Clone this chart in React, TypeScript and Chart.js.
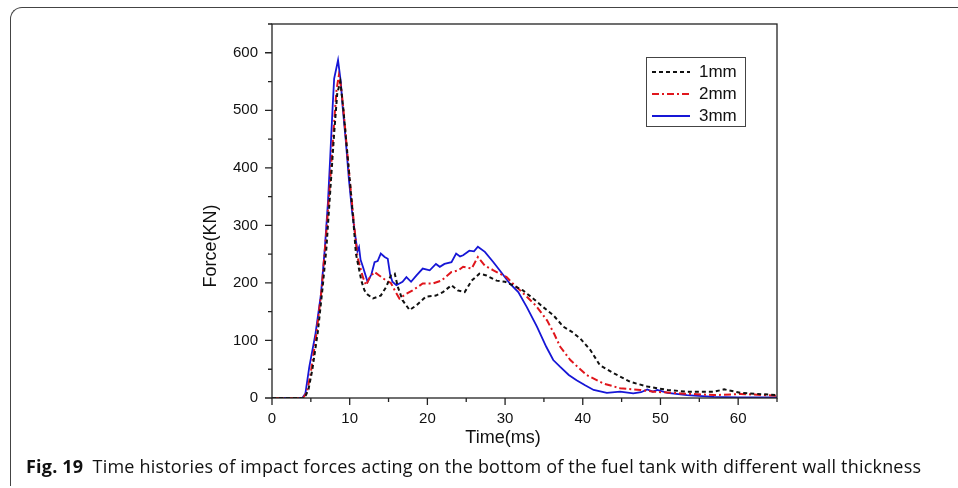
import React, { useEffect, useRef } from "react";
import { Chart, registerables } from "chart.js";

Chart.register(...registerables);

const seriesLabels = ["1mm", "2mm", "3mm"];

const t1 = [0, 4.2, 4.7, 5.2, 5.9, 6.5, 7.0, 7.5, 8.0, 8.4, 8.8, 9.2, 9.6, 10.0, 10.4, 10.8, 11.5, 11.9, 12.3, 13.0, 14.0, 14.7, 15.3, 15.8, 16.2, 16.8, 17.7, 18.6, 19.8, 21.1, 22.0, 23.1, 23.9, 24.8, 25.7, 26.7, 27.6, 28.9, 30.0, 31.0, 32.3, 33.6, 34.9, 36.2, 37.5, 38.6, 39.7, 41.0, 42.2, 44.0, 46.1, 48.3, 50.9, 53.4, 56.9, 58.2, 60.3, 65];
const f1 = [0, 0, 15, 50, 115, 190, 260, 360, 460, 530, 550, 500, 440, 380, 320, 251, 204, 187, 180, 173, 178, 193, 213, 216, 193, 170, 153, 161, 176, 178, 184, 196, 187, 184, 204, 216, 213, 204, 202, 196, 187, 173, 158, 144, 124, 115, 103, 83, 57, 43, 28, 20, 14, 11, 11, 15, 9, 5];

const t2 = [0, 4.0, 4.5, 5.0, 5.7, 6.4, 7.0, 7.5, 8.0, 8.3, 8.6, 8.9, 9.2, 9.6, 10.0, 10.5, 11.0, 11.7, 12.1, 12.6, 13.2, 13.8, 14.7, 15.3, 15.8, 16.4, 17.3, 18.1, 19.4, 20.7, 21.8, 23.1, 24.0, 24.6, 25.7, 26.5, 27.4, 28.5, 30.2, 31.0, 32.8, 34.0, 35.4, 36.3, 37.1, 38.4, 39.5, 40.5, 42.7, 44.8, 47.4, 49.1, 52.6, 56.9, 60.3, 65];
const f2 = [0, 0, 10, 45, 110, 190, 290, 380, 480, 535, 560, 540, 500, 440, 380, 310, 245, 210, 196, 210, 219, 213, 204, 200, 187, 173, 181, 187, 199, 199, 204, 219, 222, 228, 225, 245, 230, 222, 210, 199, 176, 160, 135, 112, 89, 66, 52, 40, 25, 17, 14, 11, 8, 5, 7, 4];

const t3 = [0, 3.9, 4.3, 4.8, 5.6, 6.3, 6.8, 7.2, 7.5, 7.8, 8.0, 8.5, 8.85, 9.1, 9.5, 9.9, 10.3, 10.8, 11.0, 11.2, 11.4, 11.7, 12.3, 12.8, 13.2, 13.6, 14.0, 14.5, 14.9, 15.2, 15.5, 16.0, 16.8, 17.3, 17.9, 18.6, 19.4, 20.3, 21.1, 21.6, 22.2, 23.1, 23.7, 24.2, 24.6, 25.4, 26.0, 26.5, 27.4, 28.5, 29.3, 30.6, 31.7, 32.8, 34.1, 35.3, 36.2, 37.1, 38.2, 39.2, 40.3, 41.4, 43.1, 44.8, 46.5, 47.5, 48.3, 49.0, 49.6, 50.9, 53.4, 56.9, 60, 65];
const f3 = [0, 0, 8, 54, 112, 180, 260, 340, 420, 505, 555, 587, 550, 505, 447, 380, 325, 274, 255, 262, 240, 228, 202, 215, 236, 238, 251, 245, 242, 215, 202, 196, 202, 210, 202, 213, 225, 222, 233, 228, 233, 236, 251, 246, 248, 256, 255, 263, 254, 236, 222, 199, 184, 158, 124, 89, 66, 54, 40, 31, 22, 14, 9, 11, 8, 10, 15, 11, 14, 9, 5, 2, 1, 1];

const xTickValues = [0, 10, 20, 30, 40, 50, 60];
const yTickValues = [0, 100, 200, 300, 400, 500, 600];

const xTitle = "Time(ms)";
const yTitle = "Force(KN)";
const captionBold = "Fig. 19";
const captionText = "Time histories of impact forces acting on the bottom of the fuel tank with different wall thickness";

const FONT = "'Liberation Sans', Arial, sans-serif";

const zip = (t: number[], f: number[]) => t.map((x, i) => ({ x, y: f[i] }));

const framePlugin = {
  id: "frame",
  afterDraw(chart: any) {
    const { ctx, chartArea } = chart;
    const { left, right, top, bottom } = chartArea;
    const xs = chart.scales.x;
    const ys = chart.scales.y;
    ctx.save();
    ctx.strokeStyle = "#222";
    ctx.lineWidth = 1.3;
    ctx.strokeRect(left, top, right - left, bottom - top);
    ctx.beginPath();
    for (let v = 0; v <= 65; v += 5) {
      const px = xs.getPixelForValue(v);
      const len = v % 10 === 0 ? 7 : 4;
      ctx.moveTo(px, bottom);
      ctx.lineTo(px, bottom + len);
    }
    for (let v = 0; v <= 650; v += 50) {
      const py = ys.getPixelForValue(v);
      const len = v % 100 === 0 ? 7 : 4;
      ctx.moveTo(left, py);
      ctx.lineTo(left - len, py);
    }
    ctx.stroke();

    // axis titles
    ctx.fillStyle = "#111";
    ctx.font = "18px " + FONT;
    ctx.textAlign = "center";
    ctx.textBaseline = "middle";
    ctx.fillText(xTitle, 503, 438);
    ctx.save();
    ctx.translate(211, 246);
    ctx.rotate(-Math.PI / 2);
    ctx.fillText(yTitle, 0, 0);
    ctx.restore();

    // legend
    const bx = 646, by = 57, bw = 99, bh = 69;
    ctx.fillStyle = "#fff";
    ctx.fillRect(bx, by, bw, bh);
    ctx.strokeStyle = "#444";
    ctx.lineWidth = 1;
    ctx.strokeRect(bx + 0.5, by + 0.5, bw, bh);
    chart.data.datasets.forEach((ds: any, i: number) => {
      const y = 72 + 22 * i;
      ctx.beginPath();
      ctx.setLineDash(ds.borderDash || []);
      ctx.strokeStyle = ds.borderColor;
      ctx.lineWidth = ds.borderWidth;
      ctx.moveTo(652, y);
      ctx.lineTo(690, y);
      ctx.stroke();
      ctx.setLineDash([]);
      ctx.fillStyle = "#111";
      ctx.font = "17px " + FONT;
      ctx.textAlign = "left";
      ctx.textBaseline = "middle";
      ctx.fillText(ds.label, 699, y);
    });
    ctx.restore();
  },
};

export default function App() {
  const ref = useRef<HTMLCanvasElement>(null);
  useEffect(() => {
    if (!ref.current) return;
    const chart = new Chart(ref.current, {
      type: "line",
      data: {
        datasets: [
          { label: seriesLabels[0], data: zip(t1, f1), borderColor: "#111111", borderWidth: 2, borderDash: [4, 3], pointRadius: 0, fill: false, tension: 0 },
          { label: seriesLabels[1], data: zip(t2, f2), borderColor: "#e0161c", borderWidth: 2, borderDash: [7, 3, 2, 3], pointRadius: 0, fill: false, tension: 0 },
          { label: seriesLabels[2], data: zip(t3, f3), borderColor: "#1616d6", borderWidth: 1.8, pointRadius: 0, fill: false, tension: 0 },
        ],
      },
      options: {
        animation: false,
        responsive: false,
        devicePixelRatio: 1,
        layout: { padding: { left: 212, right: 181, top: 24, bottom: 50 } },
        plugins: { legend: { display: false }, tooltip: { enabled: false }, title: { display: false } },
        scales: {
          x: {
            type: "linear",
            min: 0,
            max: 65,
            afterFit: (s: any) => { s.height = 40; },
            afterBuildTicks: (s: any) => { s.ticks = xTickValues.map((v) => ({ value: v })); },
            grid: { display: false, drawTicks: false },
            border: { display: false },
            ticks: { padding: 12, color: "#111", font: { size: 15, family: FONT }, maxRotation: 0, autoSkip: false },
          },
          y: {
            type: "linear",
            min: 0,
            max: 650,
            afterFit: (s: any) => { s.width = 60; },
            afterBuildTicks: (s: any) => { s.ticks = yTickValues.map((v) => ({ value: v })); },
            grid: { display: false, drawTicks: false },
            border: { display: false },
            ticks: { padding: 14, color: "#111", font: { size: 15, family: FONT } },
          },
        },
      },
      plugins: [framePlugin],
    });
    return () => chart.destroy();
  }, []);

  return (
    <div style={{ position: "fixed", left: 0, top: 0, width: 958, height: 488, overflow: "hidden", background: "#fff" }}>
      <div style={{ position: "absolute", left: 10, top: 7, width: 1000, height: 478, borderTop: "1px solid #444", borderLeft: "1px solid #444", borderTopLeftRadius: 12 }} />
      <canvas ref={ref} width={958} height={488} style={{ position: "absolute", left: 0, top: 0, width: 958, height: 488 }} />
      <div style={{ position: "absolute", left: 26, top: 456, whiteSpace: "nowrap", fontFamily: "'Open Sans', sans-serif", fontSize: 18, letterSpacing: "0.2px", lineHeight: "20px", color: "#111" }}>
        <b>{captionBold}</b>{"\u2002"}{captionText}
      </div>
    </div>
  );
}
